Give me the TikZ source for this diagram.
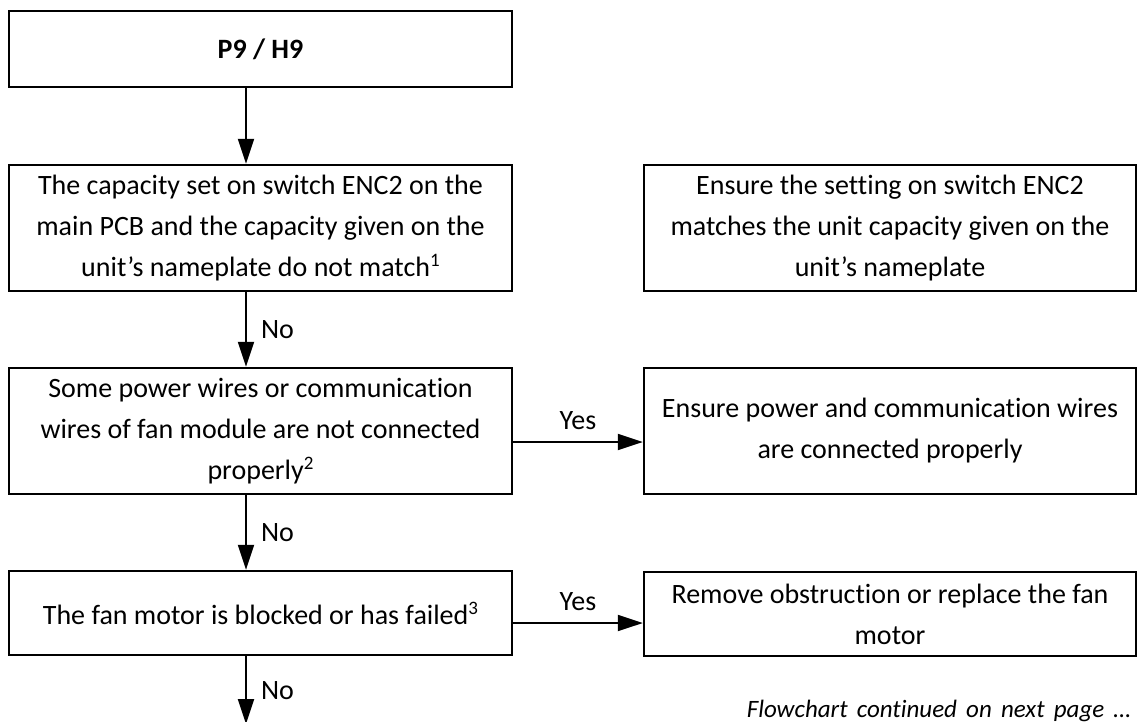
\documentclass[tikz,border=0pt]{standalone}
\usepackage{fontspec}
\setmainfont{Carlito}[Ligatures=NoCommon]
\usetikzlibrary{arrows.meta}
\newcommand\txtfont{\fontsize{28}{41}\selectfont}
\newcommand\footfont{\fontsize{25}{30}\selectfont\itshape}
\newcommand\fnmark[1]{\raisebox{10pt}{\fontsize{19}{19}\selectfont #1}}
\begin{document}
\begin{tikzpicture}[x=1pt,y=-1pt,
  box/.style={draw, line width=2.3pt, inner sep=0pt, align=center, font=\txtfont},
  lbox/.style={box, minimum width=503pt},
  rbox/.style={box, minimum width=492pt},
  arr/.style={line width=2pt, -{Triangle[length=25pt,width=16pt]}},
  lbl/.style={font=\txtfont, inner sep=0pt}]
\useasboundingbox (0,0) rectangle (1137,722);
% left column
\node[lbox, minimum height=76pt, font=\txtfont\bfseries] (p9) at (260.5,49) {P9 / H9};
\node[lbox, minimum height=126pt] (b2) at (260.5,228) {The capacity set on switch ENC2 on the\\main PCB and the capacity given on the\\unit’s nameplate do not match\fnmark{1}};
\node[lbox, minimum height=126pt] (b3) at (260.5,431) {Some power wires or communication\\wires of fan module are not connected\\properly\fnmark{2}};
\node[lbox, minimum height=84pt] (b4) at (260.5,613) {The fan motor is blocked or has failed\fnmark{3}};
% right column
\node[rbox, minimum height=126pt] (r1) at (890,228) {Ensure the setting on switch ENC2\\matches the unit capacity given on the\\unit’s nameplate};
\node[rbox, minimum height=126pt] (r2) at (890,431) {Ensure power and communication wires\\are connected properly};
\node[rbox, minimum height=84pt] (r3) at (890,614) {Remove obstruction or replace the fan\\motor};
% connectors
\coordinate (ax) at (246,0);
\coordinate (bend) at (246,724);
\draw[arr] (p9.south -| ax) -- (b2.north -| ax);
\draw[arr] (b2.south -| ax) -- node[lbl, anchor=west, xshift=14pt] (no1) {No} (b3.north -| ax);
\draw[arr] (b3.south -| ax) -- node[lbl, anchor=west, xshift=14pt] (no2) {No} (b4.north -| ax);
\draw[arr] (b4.south -| ax) -- node[lbl, anchor=west, xshift=14pt, yshift=-1pt] (no3) {No} (bend);
\draw[arr] ([yshift=-11pt]b3.east) -- node[lbl, yshift=21pt] (yes1) {Yes} ([yshift=-11pt]b3.east -| r2.west);
\draw[arr] ([yshift=-10pt]b4.east) -- node[lbl, yshift=21pt] (yes2) {Yes} ([yshift=-10pt]b4.east -| r3.west);
% footer
\node[font=\footfont, anchor=base east, inner sep=0pt] (foot) at (1131,717) {\makebox[384pt][s]{Flowchart continued on next page …}};
\end{tikzpicture}
\end{document}
